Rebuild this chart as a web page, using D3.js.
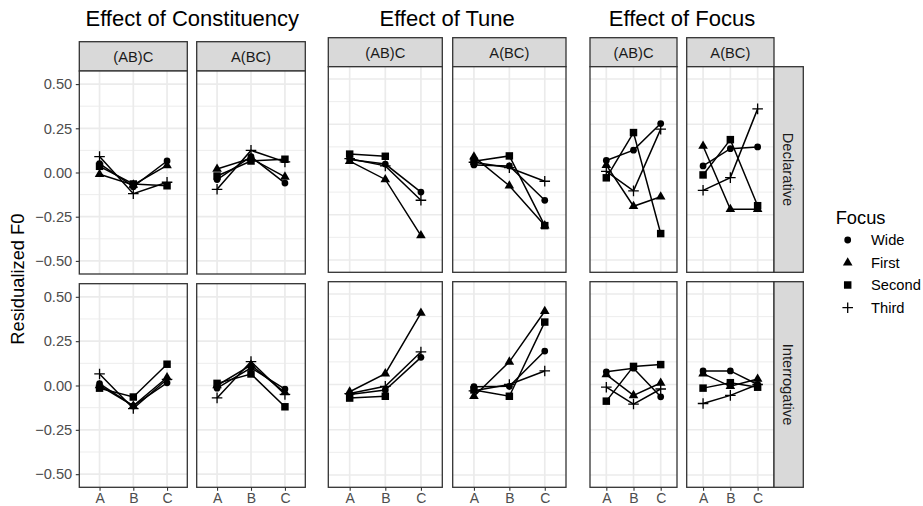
<!DOCTYPE html>
<html><head><meta charset="utf-8">
<script src="https://cdn.jsdelivr.net/npm/d3@7"></script>
<style>body{margin:0;background:#fff;} svg{display:block;font-family:"Liberation Sans",Arial,Helvetica,sans-serif;}</style>
</head><body><svg id="chart" width="923" height="506"></svg>
<script>
// ---------------- data ----------------
const categories = ["A", "B", "C"];
const focusLevels = ["Wide", "First", "Second", "Third"];
const constituencies = ["(AB)C", "A(BC)"];
const tunes = ["Declarative", "Interrogative"];
const groupTitles = ["Effect of Constituency", "Effect of Tune", "Effect of Focus"];
const yTicks = [-0.5, -0.25, 0, 0.25, 0.5];
const yTickLabels = ["\u22120.50", "\u22120.25", "0.00", "0.25", "0.50"];
const yMinorTicks = [-0.375, -0.125, 0.125, 0.375];
const yAxisTitle = "Residualized F0";
const legendTitle = "Focus";

// each array: rows = Wide, First, Second, Third ; columns = A, B, C
const constDeclABC = [[0.05, -0.08, 0.065], [-0.01, -0.07, 0.04], [0.035, -0.065, -0.075], [0.09, -0.12, -0.055]];
const constDeclA_BC = [[-0.04, 0.09, -0.06], [0.02, 0.08, -0.025], [-0.02, 0.065, 0.075], [-0.095, 0.125, 0.06]];
const constIntABC = [[0.01, -0.115, 0.015], [0.0, -0.115, 0.045], [-0.015, -0.065, 0.12], [0.065, -0.13, 0.035]];
const constIntA_BC = [[-0.015, 0.1, -0.02], [0.0, 0.115, -0.04], [0.012, 0.065, -0.12], [-0.07, 0.135, -0.05]];

const tuneDeclABC = [[0.055, 0.03, -0.125], [0.046, -0.055, -0.365], [0.085, 0.073, null], [0.06, 0.02, -0.17]];
const tuneDeclA_BC = [[0.025, 0.02, -0.17], [0.07, -0.09, -0.31], [0.045, 0.075, -0.31], [0.04, 0.01, -0.065]];
const tuneIntABC = [[-0.055, -0.03, 0.15], [-0.04, 0.06, 0.395], [-0.075, -0.065, null], [-0.05, -0.01, 0.18]];
const tuneIntA_BC = [[-0.012, -0.01, 0.185], [-0.065, 0.125, 0.405], [-0.03, -0.065, 0.345], [-0.035, 0.0, 0.075]];

const focusDeclABC = [[0.05, 0.107, 0.254], [0.024, -0.203, -0.151], [-0.046, 0.204, -0.354], [-0.01, -0.118, 0.223]];
const focusDeclA_BC = [[0.02, 0.115, 0.125], [0.13, -0.22, -0.22], [-0.03, 0.165, -0.2], [-0.115, -0.045, 0.335]];
const focusIntABC = [[0.07, 0.09, -0.068], [0.055, -0.06, 0.008], [-0.092, 0.1, 0.11], [-0.015, -0.108, -0.025]];
const focusIntA_BC = [[0.075, 0.075, 0.0], [0.06, -0.01, 0.03], [-0.02, 0.01, -0.015], [-0.105, -0.06, 0.0]];

// table built from the arrays: [group][tune][constituency]
const groupData = [
  [[constDeclABC, constDeclA_BC], [constIntABC, constIntA_BC]],
  [[tuneDeclABC, tuneDeclA_BC], [tuneIntABC, tuneIntA_BC]],
  [[focusDeclABC, focusDeclA_BC], [focusIntABC, focusIntA_BC]]
];

// ---------------- layout ----------------
const layout = [
  {cols: [[79.3, 187.3], [196.7, 305.3]], rows: [[71, 274], [283.7, 487.3]], stripTop: 41.7, yLim: 0.574, yAxis: true, rightStrip: false},
  {cols: [[328.3, 442.3], [452.7, 566]], rows: [[66.7, 272.3], [281.7, 487.3]], stripTop: 37.7, yLim: 0.568, yAxis: false, rightStrip: false},
  {cols: [[590, 677], [686.7, 774]], rows: [[66.7, 272.3], [281.7, 487.3]], stripTop: 37.7, yLim: 0.568, yAxis: false, rightStrip: true}
];
const rightStripW = 29.3;
const titleY = 26;
const fs = {title: 22, strip: 14.7, tick: 14.7, xTick: 14, axisTitle: 18.3, legendTitle: 18.3, legendLabel: 14.7};

// symbols
const plusSymbol = {draw(ctx, size) { const r = Math.sqrt(size) / 2; ctx.moveTo(-r, 0); ctx.lineTo(r, 0); ctx.moveTo(0, -r); ctx.lineTo(0, r); }};
const symbolTypes = [d3.symbolCircle, d3.symbolTriangle, d3.symbolSquare, plusSymbol];
const symbolSizes = [36, 40, 56, 112];
const symbolFilled = [true, true, true, false];
function drawSymbol(sel, fi, tx, ty) {
  sel.append("path")
    .attr("d", d3.symbol().type(symbolTypes[fi]).size(symbolSizes[fi])())
    .attr("transform", `translate(${tx},${ty})`)
    .attr("fill", symbolFilled[fi] ? "#000" : "none")
    .attr("stroke", symbolFilled[fi] ? "none" : "#000")
    .attr("stroke-width", 1.3);
}

const svg = d3.select("#chart");
svg.append("rect").attr("width", 923).attr("height", 506).attr("fill", "#fff");

groupTitles.forEach((title, g) => {
  const L = layout[g];
  const G = svg.append("g");
  // title
  G.append("text").attr("x", (L.cols[0][0] + L.cols[1][1]) / 2).attr("y", titleY)
    .attr("text-anchor", "middle").attr("font-size", fs.title).attr("fill", "#000").text(title);

  constituencies.forEach((con, c) => {
    const [x0, x1] = L.cols[c];
    // top strip
    G.append("rect").attr("x", x0).attr("y", L.stripTop).attr("width", x1 - x0).attr("height", L.rows[0][0] - L.stripTop)
      .attr("fill", "#d9d9d9").attr("stroke", "#333").attr("stroke-width", 1.3);
    G.append("text").attr("x", (x0 + x1) / 2).attr("y", (L.stripTop + L.rows[0][0]) / 2 + 5.3)
      .attr("text-anchor", "middle").attr("font-size", fs.strip).attr("fill", "#1a1a1a").text(con);

    tunes.forEach((tune, r) => {
      const [y0, y1] = L.rows[r];
      const x = d3.scalePoint().domain(categories).range([x0, x1]).padding(0.6);
      const y = d3.scaleLinear().domain([-L.yLim, L.yLim]).range([y1, y0]);
      const P = G.append("g");
      P.append("rect").attr("x", x0).attr("y", y0).attr("width", x1 - x0).attr("height", y1 - y0).attr("fill", "#fff");
      P.selectAll(".minor").data(yMinorTicks).join("line")
        .attr("x1", x0).attr("x2", x1).attr("y1", d => y(d)).attr("y2", d => y(d))
        .attr("stroke", "#ebebeb").attr("stroke-width", 0.9);
      P.selectAll(".majorY").data(yTicks).join("line")
        .attr("x1", x0).attr("x2", x1).attr("y1", d => y(d)).attr("y2", d => y(d))
        .attr("stroke", "#ebebeb").attr("stroke-width", 1.7);
      P.selectAll(".majorX").data(categories).join("line")
        .attr("x1", d => x(d)).attr("x2", d => x(d)).attr("y1", y0).attr("y2", y1)
        .attr("stroke", "#ebebeb").attr("stroke-width", 1.7);

      const series = groupData[g][r][c];
      const line = d3.line().defined(d => d != null).x((d, i) => x(categories[i])).y(d => y(d));
      series.forEach((vals, fi) => {
        P.append("path").attr("d", line(vals)).attr("fill", "none").attr("stroke", "#000").attr("stroke-width", 1.5);
      });
      series.forEach((vals, fi) => {
        vals.forEach((v, i) => { if (v != null) drawSymbol(P, fi, x(categories[i]), y(v)); });
      });
      P.append("rect").attr("x", x0).attr("y", y0).attr("width", x1 - x0).attr("height", y1 - y0)
        .attr("fill", "none").attr("stroke", "#333").attr("stroke-width", 1.3);

      if (L.yAxis && c === 0) {
        const ax = G.append("g").attr("transform", `translate(${x0},0)`)
          .call(d3.axisLeft(y).tickValues(yTicks).tickFormat((d, i) => yTickLabels[i]).tickSize(3.5).tickPadding(3.5));
        ax.select(".domain").remove();
        ax.selectAll("line").attr("stroke", "#333").attr("stroke-width", 1.1);
        ax.selectAll("text").attr("font-size", fs.tick).attr("fill", "#4d4d4d");
        ax.attr("font-family", null);
      }
      if (r === tunes.length - 1) {
        const ax = G.append("g").attr("transform", `translate(0,${y1})`)
          .call(d3.axisBottom(x).tickSize(3.5).tickPadding(2.2));
        ax.select(".domain").remove();
        ax.selectAll("line").attr("stroke", "#333").attr("stroke-width", 1.1);
        ax.selectAll("text").attr("font-size", fs.xTick).attr("fill", "#4d4d4d");
        ax.attr("font-family", null);
      }
      if (L.rightStrip && c === constituencies.length - 1) {
        G.append("rect").attr("x", x1).attr("y", y0).attr("width", rightStripW).attr("height", y1 - y0)
          .attr("fill", "#d9d9d9").attr("stroke", "#333").attr("stroke-width", 1.3);
        const cx = x1 + rightStripW / 2 - 5.3, cy = (y0 + y1) / 2;
        G.append("text").attr("transform", `translate(${cx},${cy}) rotate(90)`)
          .attr("text-anchor", "middle").attr("font-size", fs.strip).attr("fill", "#1a1a1a").text(tune);
      }
    });
  });
});

// y axis title
svg.append("text").attr("transform", `translate(23.7,${(71 + 487.3) / 2}) rotate(-90)`)
  .attr("text-anchor", "middle").attr("font-size", fs.axisTitle).attr("fill", "#000").text(yAxisTitle);

// legend
const legendYs = [240, 262.7, 285, 307.7];
const LG = svg.append("g");
LG.append("text").attr("x", 835.7).attr("y", 224).attr("font-size", fs.legendTitle).attr("fill", "#000").text(legendTitle);
focusLevels.forEach((f, i) => {
  drawSymbol(LG, i, 847.7, legendYs[i]);
  LG.append("text").attr("x", 871).attr("y", legendYs[i] + 5.2).attr("font-size", fs.legendLabel).attr("fill", "#000").text(f);
});
</script></body></html>
